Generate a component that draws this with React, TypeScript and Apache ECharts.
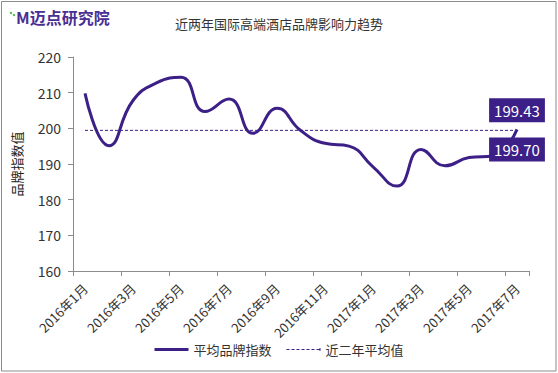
import React, { useEffect, useRef } from "react";
import * as echarts from "echarts";

const categories = [
  "2016年1月", "2016年2月", "2016年3月", "2016年4月", "2016年5月", "2016年6月",
  "2016年7月", "2016年8月", "2016年9月", "2016年10月", "2016年11月", "2016年12月",
  "2017年1月", "2017年2月", "2017年3月", "2017年4月", "2017年5月", "2017年6月", "2017年7月",
];
const brandIndex = [
  209.8, 195.1, 207.8, 212.8, 214.3, 204.7, 208.2, 198.6, 205.6, 199.3,
  195.8, 195.0, 189.2, 183.8, 194.1, 189.5, 191.8, 192.3, 199.7,
];
const avgValue = 199.43;
const avgSeries = categories.map(() => avgValue);
const yTicks = { min: 160, max: 220, interval: 10 };

const PURPLE = "#3c1f87";
const FONT = "'Noto Sans CJK SC', 'Noto Sans', sans-serif";

const SOLID_ICON = "path://M0,0H34V3H0Z";
const DASH_ICON =
  "path://M0,1H3V2H0Z M5,1H8V2H5Z M10,1H13V2H10Z M15,1H18V2H15Z M20,1H23V2H20Z M25,1H28V2H25Z M30,1H33V2H30Z M33,0H34V3H33Z";

function boxLabel(position: "top" | "bottom") {
  return {
    show: true,
    position,
    distance: 8,
    formatter: (p: any) => Number(p.value).toFixed(2),
    color: "#fff",
    backgroundColor: PURPLE,
    fontSize: 15,
    padding: [5, 5, 4, 5],
    fontFamily: FONT,
  };
}

export default function App() {
  const ref = useRef<HTMLDivElement>(null);
  useEffect(() => {
    document.body.style.margin = "0";
    if (!ref.current) return;
    const chart = echarts.init(ref.current, undefined, { renderer: "svg" });
    const last = brandIndex.length - 1;
    chart.setOption({
      animation: false,
      backgroundColor: "#fff",
      textStyle: { fontFamily: FONT },
      title: {
        text: "近两年国际高端酒店品牌影响力趋势",
        left: "center",
        top: 12,
        textStyle: { fontSize: 13, fontWeight: "normal", color: "#333", fontFamily: FONT },
      },
      graphic: [
        {
          type: "rect",
          shape: { x: 1.5, y: 1.5, width: 554.5, height: 369.5 },
          style: { fill: "none", stroke: "#8c8c8c", lineWidth: 1 },
          silent: true,
        },
        { type: "circle", shape: { cx: 11, cy: 13, r: 1.2 }, style: { fill: "#55b948" } },
        { type: "circle", shape: { cx: 14, cy: 15, r: 1.2 }, style: { fill: "#55b948" } },
        {
          type: "text",
          left: 16,
          top: 9,
          style: {
            text: "M迈点研究院",
            fill: "#4a2f93",
            font: `bold 16px ${FONT}`,
          },
        },
      ],
      legend: {
        top: 338,
        left: "center",
        itemGap: 15,
        itemWidth: 34,
        itemHeight: 3,
        textStyle: { fontSize: 13, color: "#333", fontFamily: FONT },
        data: [
          { name: "平均品牌指数", icon: SOLID_ICON },
          { name: "近二年平均值", icon: DASH_ICON },
        ],
      },
      grid: { left: 73, right: 29, top: 57, bottom: 102, containLabel: false },
      xAxis: {
        type: "category",
        data: categories,
        boundaryGap: true,
        axisLine: { lineStyle: { color: "#8c8c8c" } },
        axisTick: { show: true, interval: 1, length: 5, lineStyle: { color: "#8c8c8c" } },
        axisLabel: {
          interval: 1,
          rotate: 45,
          fontSize: 13,
          color: "#333",
          margin: 15,
          fontFamily: FONT,
        },
        splitLine: { show: false },
      },
      yAxis: {
        type: "value",
        min: yTicks.min,
        max: yTicks.max,
        interval: yTicks.interval,
        name: "品牌指数值",
        nameLocation: "middle",
        nameGap: 50,
        nameTextStyle: { fontSize: 13, color: "#222222", fontFamily: FONT },
        axisLine: { show: true, lineStyle: { color: "#8c8c8c" } },
        axisTick: { show: true, length: 5, lineStyle: { color: "#8c8c8c" } },
        axisLabel: { fontSize: 14, color: "#333", margin: 12, fontFamily: FONT },
        splitLine: { show: false },
      },
      series: [
        {
          name: "平均品牌指数",
          type: "line",
          smooth: 0.5,
          symbol: "circle",
          symbolSize: 0.1,
          showSymbol: true,
          showAllSymbol: true,
          lineStyle: { color: PURPLE, width: 3 },
          itemStyle: { color: PURPLE },
          data: brandIndex.map((v, i) =>
            i === last ? { value: v, label: boxLabel("bottom") } : v
          ),
          z: 3,
        },
        {
          name: "近二年平均值",
          type: "line",
          symbol: "circle",
          symbolSize: 0.1,
          showSymbol: true,
          showAllSymbol: true,
          lineStyle: { color: PURPLE, width: 1, type: [3, 2] },
          itemStyle: { color: PURPLE },
          data: avgSeries.map((v, i) =>
            i === last ? { value: v, label: boxLabel("top") } : v
          ),
          z: 2,
        },
      ],
    });
    return () => chart.dispose();
  }, []);
  return <div ref={ref} style={{ width: 558, height: 373 }} />;
}
